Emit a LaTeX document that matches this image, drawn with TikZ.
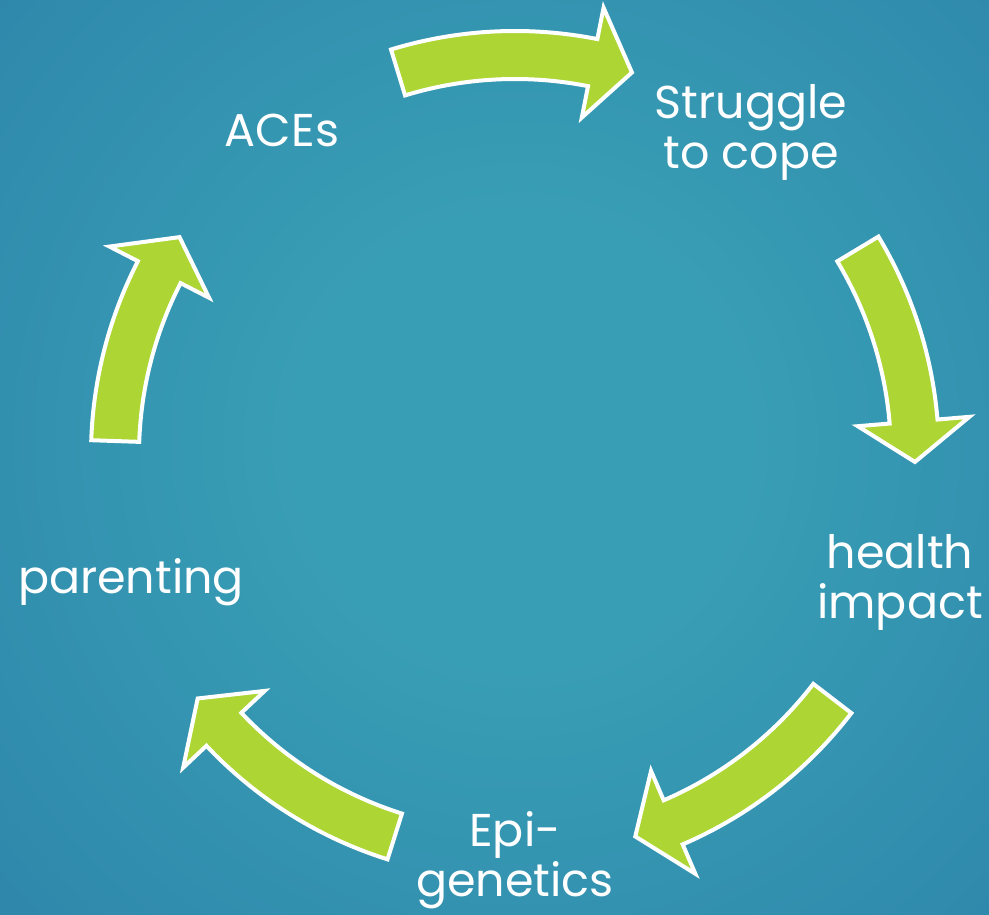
\documentclass[tikz,border=0pt]{standalone}
\usepackage{fontspec}
\setmainfont{Poppins}
\definecolor{bgin}{RGB}{56,158,181}
\definecolor{bgout}{RGB}{33,103,157}
\definecolor{lime}{RGB}{173,213,51}
\pgfdeclareradialshading{bgglow}{\pgfpoint{0bp}{0bp}}{color(0bp)=(bgin); color(7bp)=(bgin); color(43bp)=(bgout); color(50bp)=(bgout)}
\tikzset{
  cyclearrowstyle/.style={fill=lime, draw=white, line width=4pt, line join=miter},
  label/.style={text=white, align=center, font=\fontsize{46}{50}\selectfont, inner sep=0pt}
}
% curved block arrow on the cycle circle, from angle #1 clockwise to its tip at angle #2
\newcommand\cyclearrow[2]{%
  \path[cyclearrowstyle]
    (#1:424) arc[start angle=#1, end angle=#2+5.8, radius=424]
    -- (#2+5.8:456) -- (#2:400) -- (#2+5.8:344) -- (#2+5.8:376)
    arc[start angle=#2+5.8, end angle=#1, radius=376] -- cycle;}
\begin{document}
\begin{tikzpicture}[x=1pt,y=1pt]
  \useasboundingbox (0,0) rectangle (989,915);
  \begin{scope}
    \clip (0,0) rectangle (989,915);
    \shade[shading=bgglow] (520,475) circle[radius=800];
  \end{scope}
  % arrows of the cycle
  \begin{scope}[shift={(515,460)}]
    \cyclearrow{107}{73}
    \cyclearrow{31}{-1}
    \cyclearrow{-37.5}{-72.5}
    \cyclearrow{-107.5}{-142.5}
    \cyclearrow{178}{147}
  \end{scope}
  % stages of the cycle
  \node[label] (aces) at (282,785) {ACEs};
  \node[label] (struggle) at (751,783) {Struggle\\to cope};
  \node[label] (health) at (900,333) {health\\impact};
  \node[label] (epi) at (515,55) {Epi-\\genetics};
  \node[label] (parenting) at (131,333) {parenting};
\end{tikzpicture}
\end{document}
